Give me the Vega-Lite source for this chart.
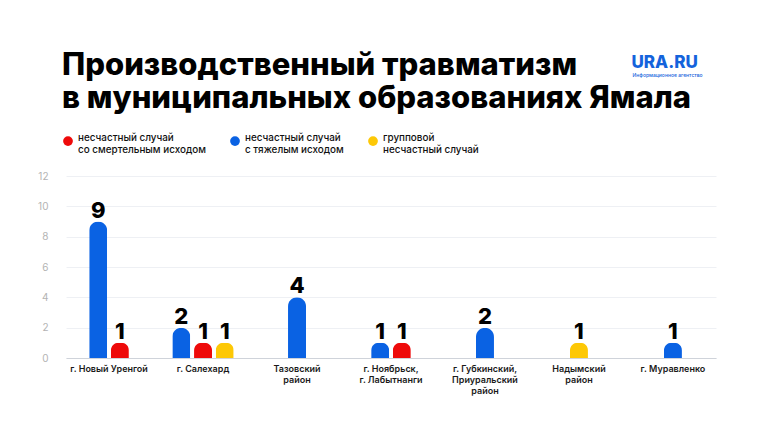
{
  "$schema": "https://vega.github.io/schema/vega-lite/v6.json",
  "autosize": {"type": "none"},
  "width": 650,
  "height": 182,
  "padding": {"left": 66, "top": 176, "right": 44, "bottom": 80},
  "background": "#ffffff",
  "config": {"view": {"stroke": null}},
  "title": {
    "text": ["Производственный травматизм", "в муниципальных образованиях Ямала"],
    "anchor": "start",
    "frame": "group",
    "font": "Inter",
    "fontSize": 31,
    "fontWeight": 800,
    "color": "#000000",
    "lineHeight": 33.5,
    "offset": -62,
    "dx": -4
  },
  "data": {
    "values": [
      {"place": "г. Новый Уренгой", "type": "несчастный случай с тяжелым исходом", "count": 9},
      {"place": "г. Новый Уренгой", "type": "несчастный случай со смертельным исходом", "count": 1},
      {"place": "г. Салехард", "type": "несчастный случай с тяжелым исходом", "count": 2},
      {"place": "г. Салехард", "type": "несчастный случай со смертельным исходом", "count": 1},
      {"place": "г. Салехард", "type": "групповой несчастный случай", "count": 1},
      {"place": "Тазовский район", "type": "несчастный случай с тяжелым исходом", "count": 4},
      {"place": "г. Ноябрьск, г. Лабытнанги", "type": "несчастный случай с тяжелым исходом", "count": 1},
      {"place": "г. Ноябрьск, г. Лабытнанги", "type": "несчастный случай со смертельным исходом", "count": 1},
      {"place": "г. Губкинский, Приуральский район", "type": "несчастный случай с тяжелым исходом", "count": 2},
      {"place": "Надымский район", "type": "групповой несчастный случай", "count": 1},
      {"place": "г. Муравленко", "type": "несчастный случай с тяжелым исходом", "count": 1}
    ]
  },
  "transform": [
    {"window": [{"op": "row_number", "as": "r"}, {"op": "count", "as": "n"}], "groupby": ["place"], "frame": [null, null]},
    {"calculate": "datum.r - (datum.n + 1) / 2", "as": "slot"}
  ],
  "encoding": {
    "x": {
      "field": "place",
      "type": "nominal",
      "sort": null,
      "scale": {"paddingInner": 0.422, "paddingOuter": 0.169},
      "axis": {
        "labelAngle": 0,
        "domain": true,
        "domainColor": "#cfd3da",
        "ticks": false,
        "tickSize": 0,
        "grid": false,
        "labelFont": "Inter",
        "labelFontSize": 9,
        "labelFontWeight": 600,
        "labelColor": "#1a1a1a",
        "labelPadding": 6,
        "labelLineHeight": 11,
        "labelExpr": "split(replace(replace(datum.label, ', ', ',|'), ' район', '|район'), '|')",
        "title": "Информационное агентство",
        "titleX": 566,
        "titleY": -282,
        "titleAlign": "left",
        "titleBaseline": "alphabetic",
        "titleFont": "Inter",
        "titleFontSize": 5,
        "titleFontWeight": 500,
        "titleColor": "#1463dc"
      }
    },
    "xOffset": {
      "field": "slot",
      "type": "ordinal",
      "scale": {"domain": [-1, -0.5, 0, 0.5, 1], "paddingInner": 0, "paddingOuter": 0}
    },
    "y": {
      "field": "count",
      "type": "quantitative",
      "scale": {"domain": [0, 12]},
      "axis": {
        "values": [0, 2, 4, 6, 8, 10, 12],
        "grid": true,
        "gridColor": "#eef0f4",
        "domain": false,
        "ticks": false,
        "tickSize": 0,
        "labelColor": "#b3b3b3",
        "labelFont": "Inter",
        "labelFontSize": 10,
        "labelPadding": 18,
        "title": "URA.RU",
        "titleX": 565,
        "titleY": -109,
        "titleAngle": 0,
        "titleAlign": "left",
        "titleBaseline": "alphabetic",
        "titleFont": "Inter",
        "titleFontSize": 17,
        "titleFontWeight": 800,
        "titleColor": "#1463dc"
      }
    }
  },
  "layer": [
    {
      "mark": {"type": "bar", "width": 18, "cornerRadiusTopLeft": 9, "cornerRadiusTopRight": 9},
      "encoding": {
        "color": {
          "field": "type",
          "type": "nominal",
          "scale": {
            "domain": ["несчастный случай со смертельным исходом", "несчастный случай с тяжелым исходом", "групповой несчастный случай"],
            "range": ["#ee0a0a", "#0a62e3", "#fdc806"]
          },
          "legend": {
            "orient": "none",
            "legendX": -3,
            "legendY": -40,
            "direction": "horizontal",
            "title": null,
            "symbolType": "circle",
            "symbolSize": 95,
            "symbolStrokeWidth": 0,
            "labelFont": "Inter",
            "labelFontSize": 9.9,
            "labelFontWeight": 500,
            "labelColor": "#111111",
            "labelLineHeight": 12.5,
            "labelBaseline": "alphabetic",
            "labelOffset": 5,
            "columnPadding": 24,
            "labelExpr": "split(replace(replace(datum.label, 'случай ', 'случай|'), 'групповой ', 'групповой|'), '|')"
          }
        }
      }
    },
    {
      "mark": {"type": "text", "baseline": "alphabetic", "dy": -4, "font": "Inter", "fontSize": 22, "fontWeight": 800, "color": "#000000"},
      "encoding": {"text": {"field": "count", "type": "quantitative"}}
    }
  ]
}
